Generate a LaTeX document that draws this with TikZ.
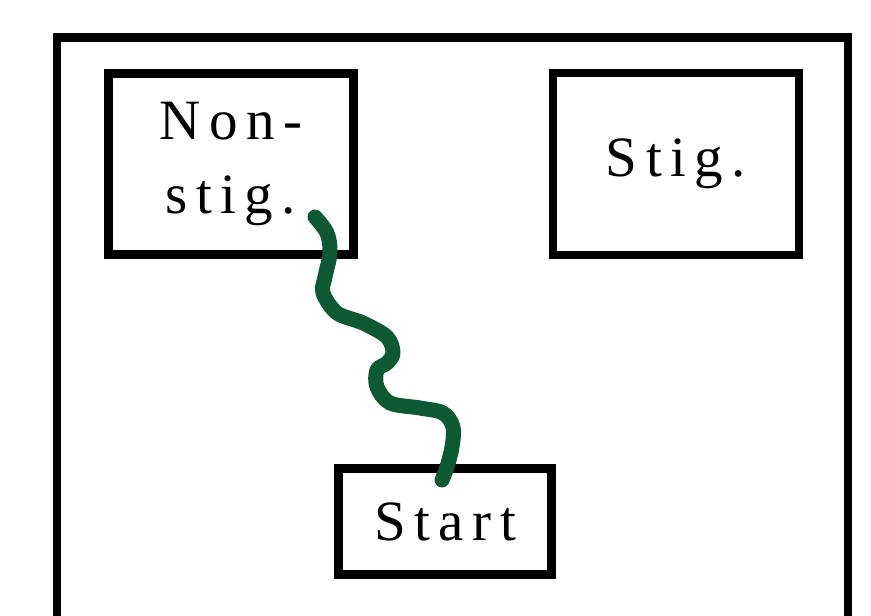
\documentclass[tikz,border=0pt]{standalone}
\usepackage{fontspec}
\setmainfont{Liberation Serif}[LetterSpace=15]
\definecolor{wiggle}{RGB}{13,89,51}
\begin{document}
\begin{tikzpicture}[x=1pt,y=1pt,
  frame/.style={line width=8.5pt, line cap=butt, line join=miter},
  box/.style={draw, line width=8.5pt, inner sep=0pt, align=center,
    font=\fontsize{57}{73.6}\selectfont},
  trail/.style={draw=wiggle, line width=15pt, line cap=round, line join=round}]
\useasboundingbox (0,0) rectangle (871,616);
\fill[white] (0,0) rectangle (871,616);
% outer frame
\draw[frame] (57.2,0) -- (57.2,578.5) -- (848,578.5) -- (848,0);
% boxes
\node[box, minimum width=245pt, minimum height=181pt] (nonstig) at (230.8,452.2) {Non-\\stig.};
\node[box, minimum width=245.7pt, minimum height=181.7pt] (stig) at (676,452) {Stig.};
\node[box, minimum width=213pt, minimum height=106pt] (start) at (445,94.5) {Start};
% wiggly trail
\coordinate (t0) at (315,399);
\coordinate (t1) at (442,136);
\draw[trail] plot[smooth, tension=0.55] coordinates {
  (t0) (327,383) (330,363) (325,339) (323,323) (337,303) (363,293) (387,279)
  (393,263) (387,253) (377,246) (377,229) (390,213) (420,208) (443,203)
  (453,189) (452,169) (447,149) (t1)};
\end{tikzpicture}
\end{document}
